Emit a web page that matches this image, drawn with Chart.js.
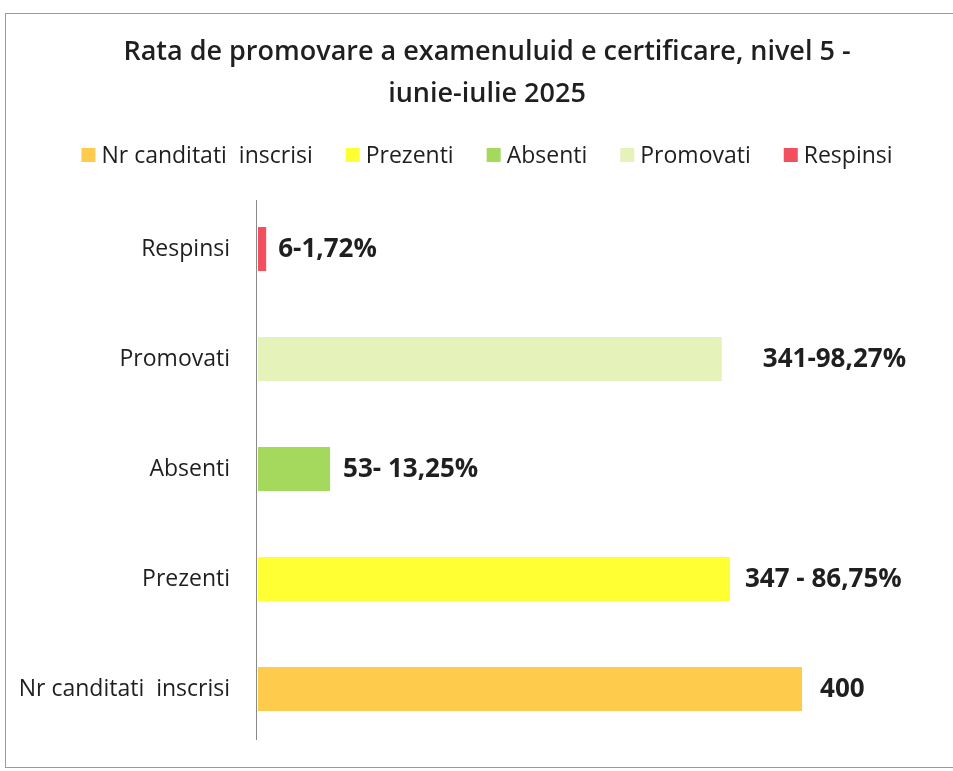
<!DOCTYPE html>
<html>
<head>
<meta charset="utf-8">
<script src="https://cdn.jsdelivr.net/npm/chart.js@4/dist/chart.umd.min.js"></script>
<style>
  html, body { margin: 0; padding: 0; background: #fff; }
  #wrap { position: relative; width: 953px; height: 771px; overflow: hidden; }
  #frame { position: absolute; left: 5px; top: 13px; width: 1000px; height: 755px; border: 1px solid #9a9a9a; box-sizing: border-box; }
  canvas { position: absolute; left: 0; top: 0; }
</style>
</head>
<body>
<div id="wrap">
  <div id="frame"></div>
  <canvas id="c" width="953" height="771"></canvas>
</div>
<script>
// ---- data ----
const categories = ['Nr canditati  inscrisi', 'Prezenti', 'Absenti', 'Promovati', 'Respinsi'];
const values = [400, 347, 53, 341, 6];
const valueLabels = ['400', '347 - 86,75%', '53- 13,25%', '341-98,27%', '6-1,72%'];
const titleLines = ['Rata de promovare a examenuluid e certificare, nivel 5 -', 'iunie-iulie 2025'];

// ---- styles ----
const barColors = ['#FFCB4C', '#FFFF33', '#A5D95E', '#E5F2BA', '#F2505E'];
const labelGap = [18, 15, 13, 41, 12];
const FONT = '"Open Sans", sans-serif';
const TEXT = '#1f1f1f';

const valueLabelPlugin = {
  id: 'valueLabels',
  afterDatasetsDraw(chart) {
    const ctx = chart.ctx;
    const meta = chart.getDatasetMeta(0);
    ctx.save();
    ctx.font = 'bold 26px ' + FONT;
    ctx.fillStyle = TEXT;
    ctx.textBaseline = 'middle';
    ctx.textAlign = 'left';
    meta.data.forEach((bar, i) => {
      ctx.fillText(valueLabels[i], bar.x + labelGap[i], bar.y + 1);
    });
    ctx.restore();
  }
};

const axisLinePlugin = {
  id: 'axisLine',
  afterDatasetsDraw(chart) {
    const ctx = chart.ctx;
    const a = chart.chartArea;
    ctx.save();
    ctx.strokeStyle = '#8a8a8a';
    ctx.lineWidth = 1;
    ctx.beginPath();
    ctx.moveTo(a.left - 1.5, a.top + 6);
    ctx.lineTo(a.left - 1.5, a.bottom - 4);
    ctx.stroke();
    ctx.restore();
  }
};

// legend drawn below the title, one item per category
const categoryLegendPlugin = {
  id: 'categoryLegend',
  afterDraw(chart, args, opts) {
    const ctx = chart.ctx;
    const ds = chart.data.datasets[0];
    const box = opts.boxSize, gap = opts.textGap, spacing = opts.itemSpacing;
    ctx.save();
    ctx.font = opts.fontSize + 'px ' + FONT;
    ctx.textBaseline = 'middle';
    ctx.textAlign = 'left';
    const items = chart.data.labels.map((l, i) => ({ text: l, color: ds.backgroundColor[i], w: ctx.measureText(l).width }));
    let total = items.reduce((s, it) => s + box + gap + it.w, 0) + spacing * (items.length - 1);
    const tb = chart.titleBlock;
    const cx = (tb.left + tb.right) / 2;
    let x = cx - total / 2;
    const y = opts.y;
    items.forEach(it => {
      ctx.fillStyle = it.color;
      ctx.fillRect(x, y - box / 2, box, box);
      ctx.fillStyle = TEXT;
      ctx.fillText(it.text, x + box + gap, y + 1);
      x += box + gap + it.w + spacing;
    });
    ctx.restore();
  }
};

new Chart(document.getElementById('c'), {
  type: 'bar',
  data: {
    labels: categories,
    datasets: [{
      label: 'Valori',
      data: values,
      backgroundColor: barColors,
      borderWidth: 0,
      barPercentage: 0.4,
      categoryPercentage: 1.0
    }]
  },
  options: {
    indexAxis: 'y',
    responsive: false,
    animation: false,
    devicePixelRatio: 1,
    layout: { padding: { left: 21, right: 0, top: 0, bottom: 27 } },
    plugins: {
      title: {
        display: true,
        text: titleLines,
        color: TEXT,
        font: { family: FONT, size: 27, weight: '600', lineHeight: 1.555 },
        padding: { top: 31, bottom: 79 }
      },
      legend: { display: false },
      categoryLegend: { y: 155, boxSize: 14, textGap: 6, itemSpacing: 33, fontSize: 23 },
      tooltip: { enabled: false }
    },
    scales: {
      x: {
        display: false,
        min: 0,
        max: 511
      },
      y: {
        reverse: true,
        grid: { display: false, drawTicks: false },
        border: { display: false },
        ticks: {
          color: TEXT,
          padding: 28,
          font: { family: FONT, size: 23 }
        },
        afterFit(scale) {
          scale.width = 237;
          scale.paddingTop = 0;
          scale.paddingBottom = 0;
        }
      }
    }
  },
  plugins: [valueLabelPlugin, axisLinePlugin, categoryLegendPlugin]
});
</script>
</body>
</html>
